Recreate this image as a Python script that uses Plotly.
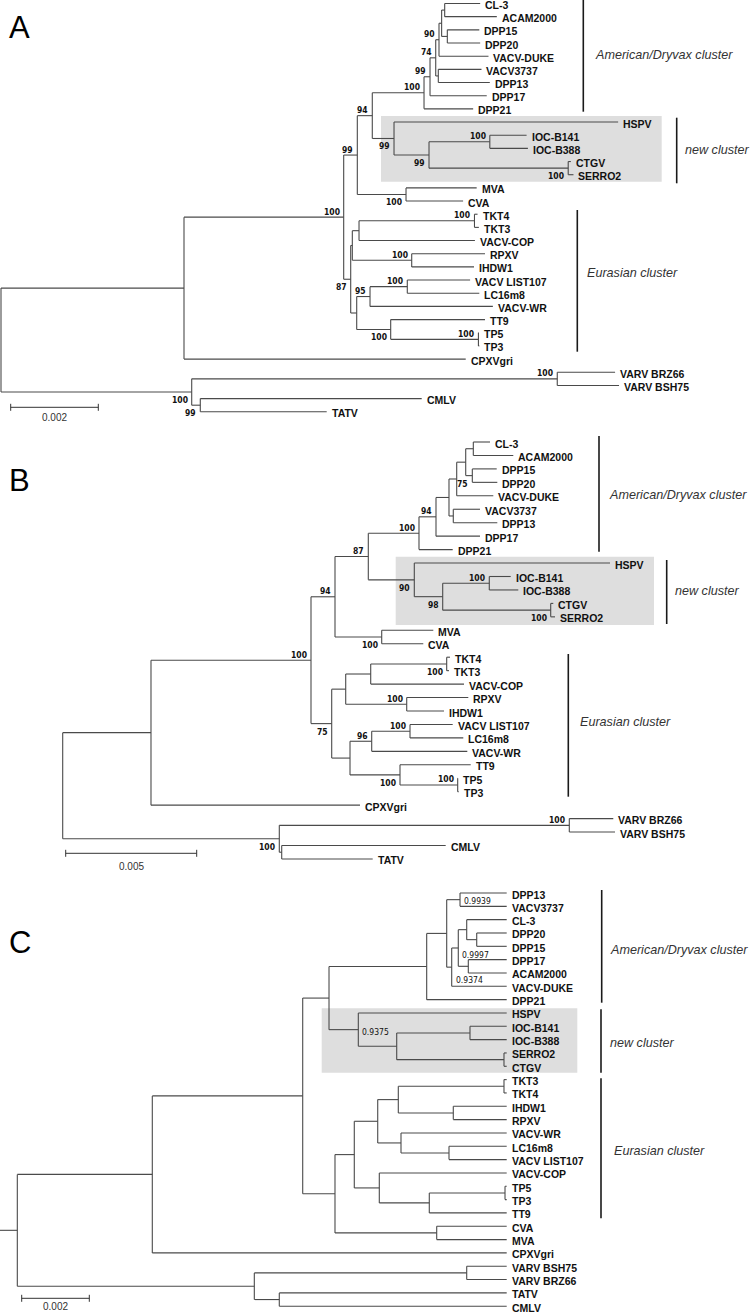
import re
import plotly.graph_objects as go

W, H = 750, 1313

# ---------------- data: three trees (Newick, branch lengths in substitutions/site) -------------
A_NEWICK = """
(
 (
  (
   (
    (
     (
      (((((CL-3:0.00081,ACAM2000:0.00119):0.00007,(DPP15:0.00073,DPP20:0.00075):0.00013):0.00006,VACV-DUKE:0.00113)90:0.000075,(VACV3737:0.000986,DPP13:0.001176):0.000059)74:0.00013,DPP17:0.001295)99:0.000137,
      DPP21:0.001122
     )100:0.001181,
     (HSPV:0.005117,((IOC-B141:0.00084,IOC-B388:0.00087)100:0.001388,(CTGV:0.00006,SERRO2:0.00012)100:0.003178)99:0.000799)99:0.000496
    )94:0.000342,
    (MVA:0.001613,CVA:0.001303)100:0.001112
   )99:0.000311,
   (
    (((TKT4:0.00007,TKT3:0.0001)100:0.002636,VACV-COP:0.002646):0.000153,(RPXV:0.001673,IHDW1:0.001423)100:0.001356):0.000037,
    (((VACV LIST107:0.001434,LC16m8:0.001644)100:0.000851,VACV-WR:0.002805)95:0.000304,(TT9:0.002153,(TP5:0.00001,TP3:0.00002)100:0.002003)100:0.000776):0.000137
   )87:0.00016
  )100:0.003646,
  CPXVgri:0.006432
 ):0.004178,
 (
  (VARV BRZ66:0.00132,VARV BSH75:0.00141)100:0.008346,
  (CMLV:0.005055,TATV:0.002886)99:0.000196
 )100:0.004354
);
"""

B_NEWICK = """
(
 (
  (
   (
    (
     (
      (((((CL-3:0.000637,ACAM2000:0.001526):0.00029,(DPP15:0.000931,DPP20:0.000954)75:0.000252):0.000344,VACV-DUKE:0.001397):0.000294,(VACV3737:0.001019,DPP13:0.00168):0.000164):0.000496,DPP17:0.001679)94:0.000649,
      DPP21:0.001286
     )100:0.001935,
     (HSPV:0.007469,((IOC-B141:0.000817,IOC-B388:0.001107)100:0.001778,(CTGV:0.000099,SERRO2:0.000164)100:0.004122)98:0.001084)90:0.001756
    )87:0.001271,
    (MVA:0.001969,CVA:0.001587)100:0.001783
   )94:0.000916,
   (
    (((TKT4:0.000126,TKT3:0.000088)100:0.0029,VACV-COP:0.003561):0.000954,(RPXV:0.002351,IHDW1:0.001423)100:0.002328):0.000535,
    (((VACV LIST107:0.001629,LC16m8:0.002034)100:0.001462,VACV-WR:0.003649)96:0.000828,(TT9:0.002699,(TP5:0.00001,TP3:0.00004)100:0.002202)100:0.001908):0.000699
   )75:0.00079
  )100:0.006107,
  CPXVgri:0.007977
 ):0.00337,
 (
  (VARV BRZ66:0.001679,VARV BSH75:0.001744)100:0.011069,
  (CMLV:0.006259,TATV:0.003473):0.000092
 )100:0.008267
);
"""

C_NEWICK = """
(
 (
  (
   (
    (
     ((DPP13:0.001381,VACV3737:0.001381)0.9939:0.000394,
      (((CL-3:0.001183,(DPP20:0.000887,DPP15:0.000887):0.000296):0.000249,(DPP17:0.001136,ACAM2000:0.001136):0.000296)0.9997:0.000195,VACV-DUKE:0.001627)0.9374:0.000148
     ):0.000592,
     DPP21:0.002367
    ):0.00289,
    (HSPV:0.00439,((IOC-B141:0.001086,IOC-B388:0.001086):0.002168,(SERRO2:0.00008,CTGV:0.00008):0.003174):0.001136)0.9375:0.000867
   ):0.000778,
   (
    (
     (((TKT3:0.00008,TKT4:0.00008):0.003127,(IHDW1:0.00158,RPXV:0.00158):0.001627):0.000609,
      (VACV-WR:0.003127,(LC16m8:0.001707,VACV LIST107:0.001707):0.00142):0.000689):0.000693,
     (VACV-COP:0.003769,((TP5:0.00005,TP3:0.00005):0.00224,TT9:0.00229):0.001479):0.00074
    ):0.000571,
    (CVA:0.002071,MVA:0.002071):0.003009
   ):0.000955
  ):0.00445,
  CPXVgri:0.010485
 ):0.003994,
 (
  (VARV BSH75:0.001183,VARV BRZ66:0.001183):0.006284,
  (TATV:0.006728,CMLV:0.006728):0.000739
 ):0.007012
):0.000512;
"""

PANEL_LETTERS = ["A", "B", "C"]
CLUSTER_NAMES = ["American/Dryvax cluster", "new cluster", "Eurasian cluster"]
SCALE_VALUES = [0.002, 0.005, 0.002]
SCALE_LABELS = ["0.002", "0.005", "0.002"]

# ---------------- styling / placement (pixels) ----------------
PANELS = [
    dict(newick=A_NEWICK, origin=1.0, ppu=43800.0, y0=3.5, dy=13.17, letter_y=28,
         box=(381, 116, 661.7, 181.7),
         bars=[(583.3, -2, 111.7), (676.7, 117.7, 183.3), (577.3, 210, 351.7)],
         blabels=[(593.3, 55), (682.7, 150), (585, 273.3)],
         scale=(10.7, 407.3, 417.8),
         support_style="left",
         override={"RPXV|IHDW1": "above", "TP5|TP3": "above"}),
    dict(newick=B_NEWICK, origin=62.7, ppu=26200.0, y0=442.0, dy=13.45, letter_y=480,
         box=(395.7, 556.7, 654, 625),
         bars=[(599, 436, 551.7), (666.7, 560, 624), (568.3, 654, 796.7)],
         blabels=[(606.7, 495), (672.7, 591), (578.3, 721.7)],
         scale=(65.7, 853.3, 866),
         support_style="left",
         override={"RPXV|IHDW1": "above", "TP5|TP3": "above", "TKT4|TKT3": "below"}),
    dict(newick=C_NEWICK, origin=0.0, ppu=33800.0, y0=893.0, dy=13.33, letter_y=943,
         box=(321.7, 1008.3, 577.3, 1072.7),
         bars=[(601.7, 890, 1002.7), (601, 1009.3, 1072.7), (601, 1078.3, 1218.3)],
         blabels=[(608.3, 950), (608.3, 1042.7), (611.7, 1150.7)],
         scale=(21.7, 1298.3, 1306),
         support_style="right",
         right_dy={"DPP13|VACV3737": 1, "CL-3|ACAM2000": 7, "CL-3|VACV-DUKE": 13, "HSPV|CTGV": 2}),
]

LINE_COLOR = "#4a4a4a"
FONT = "Liberation Sans, Arial, Helvetica, sans-serif"
NARROW = "Liberation Sans Narrow, Arial Narrow, DejaVu Sans Condensed, Liberation Sans, sans-serif"


def parse_newick(text):
    s = re.sub(r"\s*([(),:;])\s*", r"\1", text.strip()).rstrip(";")
    pos = 0

    def node():
        nonlocal pos
        n = {"children": [], "name": "", "support": "", "length": 0.0}
        if s[pos] == "(":
            pos += 1
            while True:
                n["children"].append(node())
                ch = s[pos]
                pos += 1
                if ch == ")":
                    break
        start = pos
        while pos < len(s) and s[pos] not in ":,()":
            pos += 1
        lab = s[start:pos].strip()
        if n["children"]:
            n["support"] = lab
        else:
            n["name"] = lab
        if pos < len(s) and s[pos] == ":":
            pos += 1
            start = pos
            while pos < len(s) and s[pos] not in ",()":
                pos += 1
            n["length"] = float(s[start:pos])
        return n

    return node()


def layout_tree(root):
    leaves, nodes = [], []

    def rec(n, px, parent):
        n["x"] = px + n["length"]
        n["parent"] = parent
        nodes.append(n)
        if not n["children"]:
            n["y"] = len(leaves)
            leaves.append(n)
            n["first"] = n["last"] = n["name"]
        else:
            for c in n["children"]:
                rec(c, n["x"], n)
            n["y"] = (n["children"][0]["y"] + n["children"][-1]["y"]) / 2
            n["first"] = n["children"][0]["first"]
            n["last"] = n["children"][-1]["last"]

    rec(root, 0.0, None)
    return nodes, leaves


fig = go.Figure()
annotations = []
shapes = []

for k, P in enumerate(PANELS):
    sfx = "" if k == 0 else str(k + 1)
    xa, ya = "x" + sfx, "y" + sfx
    root = parse_newick(P["newick"])
    nodes, leaves = layout_tree(root)

    def px2x(px, P=P):
        return (px - P["origin"]) / P["ppu"]

    xs, ys = [], []
    if root["length"] > 0:
        xs += [0.0, root["x"], None]
        ys += [root["y"], root["y"], None]
    for n in nodes:
        if n["children"]:
            xs += [n["x"], n["x"], None]
            ys += [n["children"][0]["y"], n["children"][-1]["y"], None]
            for c in n["children"]:
                xs += [n["x"], c["x"], None]
                ys += [c["y"], c["y"], None]
    fig.add_trace(go.Scatter(x=xs, y=ys, mode="lines", xaxis=xa, yaxis=ya,
                             line=dict(color=LINE_COLOR, width=1.1), hoverinfo="skip",
                             showlegend=False))

    fig.update_layout(**{
        "xaxis" + sfx: dict(domain=[0, 1], range=[px2x(0), px2x(W)], visible=False,
                            anchor=ya, fixedrange=True),
        "yaxis" + sfx: dict(domain=[0, 1], range=[(H - P["y0"]) / P["dy"], -P["y0"] / P["dy"]],
                            visible=False, anchor=xa, fixedrange=True),
    })

    # leaf labels
    for lf in leaves:
        annotations.append(dict(x=lf["x"], y=lf["y"], xref=xa, yref=ya, text="<b>%s</b>" % lf["name"],
                                showarrow=False, xanchor="left", yanchor="middle",
                                xshift=3, yshift=-1.5,
                                font=dict(family=FONT, size=10.5, color="#111111")))
    # support values
    for n in nodes:
        if not n["support"] or n["parent"] is None:
            continue
        key = n["first"] + "|" + n["last"]
        if P["support_style"] == "left":
            upper = n["parent"]["children"][0] is n
            pos = P["override"].get(key, "above" if upper else "below")
            annotations.append(dict(x=n["x"], y=n["y"], xref=xa, yref=ya, text="<b>%s</b>" % n["support"],
                                    showarrow=False, xanchor="right", yanchor="middle",
                                    xshift=-2, yshift=5.5 if pos == "above" else -8,
                                    font=dict(family=NARROW, size=8.5, color="#111111")))
        else:
            dyp = P["right_dy"].get(key, 0)
            annotations.append(dict(x=n["x"], y=n["y"], xref=xa, yref=ya, text=n["support"],
                                    showarrow=False, xanchor="left", yanchor="middle",
                                    xshift=2, yshift=-dyp,
                                    font=dict(family=NARROW, size=8.5, color="#111111")))

    # grey box around new cluster
    bx0, by0, bx1, by1 = P["box"]
    shapes.append(dict(type="rect", xref="paper", yref="paper", x0=bx0 / W, x1=bx1 / W,
                       y0=1 - by0 / H, y1=1 - by1 / H, fillcolor="#dedede",
                       line=dict(width=0), layer="below"))
    # cluster bars and names
    for (bx, t, b), (lx, ly), name in zip(P["bars"], P["blabels"], CLUSTER_NAMES):
        shapes.append(dict(type="line", xref="paper", yref="paper", x0=bx / W, x1=bx / W,
                           y0=1 - t / H, y1=1 - b / H, line=dict(color="#1a1a1a", width=1.6)))
        annotations.append(dict(x=lx / W, y=1 - ly / H, xref="paper", yref="paper",
                                text="<i>%s</i>" % name, showarrow=False, xanchor="left",
                                yanchor="middle", font=dict(family=FONT, size=12.6, color="#333333")))
    # panel letter
    annotations.append(dict(x=7 / W, y=1 - P["letter_y"] / H, xref="paper", yref="paper",
                            text=PANEL_LETTERS[k], showarrow=False, xanchor="left", yanchor="middle",
                            font=dict(family=FONT, size=31, color="#000000")))
    # scale bar
    sx, sy, ly = P["scale"]
    x0 = px2x(sx)
    x1 = x0 + SCALE_VALUES[k]
    shapes.append(dict(type="line", xref=xa, yref="paper", x0=x0, x1=x1, y0=1 - sy / H, y1=1 - sy / H,
                       line=dict(color="#333333", width=1)))
    for xe in (x0, x1):
        shapes.append(dict(type="line", xref=xa, yref="paper", x0=xe, x1=xe,
                           y0=1 - (sy - 3.5) / H, y1=1 - (sy + 3.5) / H,
                           line=dict(color="#333333", width=1)))
    annotations.append(dict(x=(x0 + x1) / 2, y=1 - ly / H, xref=xa, yref="paper",
                            text=SCALE_LABELS[k], showarrow=False, xanchor="center", yanchor="middle",
                            font=dict(family=FONT, size=10, color="#333333")))

fig.update_layout(width=W, height=H, autosize=False, margin=dict(l=0, r=0, t=0, b=0),
                  paper_bgcolor="white", plot_bgcolor="rgba(0,0,0,0)", showlegend=False,
                  annotations=annotations, shapes=shapes)

fig.write_html("out.html", config={"displayModeBar": False, "staticPlot": True},
               post_script="document.body.style.margin='0';document.body.style.overflow='hidden';")
